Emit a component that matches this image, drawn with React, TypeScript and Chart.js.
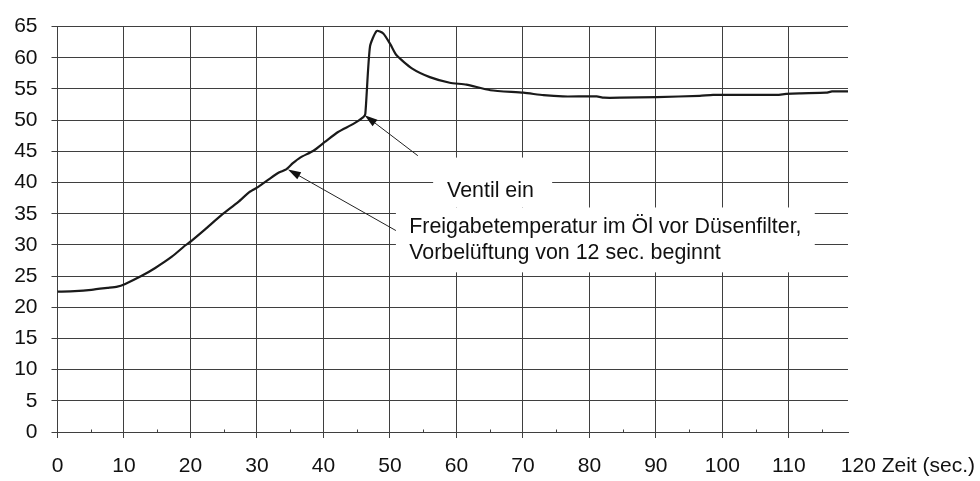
import React, { useEffect, useRef } from 'react';
import { Chart, registerables } from 'chart.js';

Chart.register(...registerables);

// ---- data ----
const timeSec = [
  0, 2.6, 5.1, 7.5, 9.0, 10.1, 12.6, 14.7, 17.2, 19.2,
  20.2, 22.2, 24.7, 27.2, 28.9, 30.2, 31.9, 33.3, 34.4, 35.4,
  36.5, 38.5, 40.2, 42.2, 44.5, 46.0, 46.3, 47.0, 48.0, 49.0,
  50.1, 51.0, 53.3, 56.0, 59.0, 61.5, 65.1, 70.1, 73.1, 76.0,
  81.1, 82.2, 84.7, 90.2, 96.6, 98.6, 108.2, 109.6, 111.6, 115.6,
  116.5, 118.9,
];
const tempC = [
  22.5, 22.6, 22.8, 23.1, 23.3, 23.7, 25.0, 26.3, 28.1, 29.9,
  30.7, 32.5, 34.8, 36.9, 38.5, 39.3, 40.6, 41.6, 42.1, 43.1,
  44.0, 45.1, 46.5, 48.1, 49.4, 50.5, 51.0, 61.8, 64.3, 63.9,
  62.1, 60.4, 58.3, 56.9, 56.0, 55.7, 54.8, 54.4, 54.0, 53.8,
  53.8, 53.6, 53.6, 53.7, 53.9, 54.05, 54.05, 54.2, 54.3, 54.4,
  54.6, 54.6,
];
const xTickValues = [0, 10, 20, 30, 40, 50, 60, 70, 80, 90, 100, 110];
const xMinorTickValues = [5, 15, 25, 35, 45, 55, 65, 75, 85, 95, 105, 115];
const xLastTick = '120';
const xLastTickValue = 120;
const xAxisTitle = 'Zeit (sec.)';
const yTickStep = 5;

const annotValve = 'Ventil ein';
const annotRelease = [
  'Freigabetemperatur im Öl vor Düsenfilter,',
  'Vorbelüftung von 12 sec. beginnt',
];

// annotation geometry in data units
const valveBox = { x0: 56.5, x1: 74.4, y0: 36.0, y1: 44.0 };
const releaseBox = { x0: 50.9, x1: 113.9, y0: 25.6, y1: 36.0 };
const valveText = { x: 58.6, y: 38.65 };
const releaseText = { x: 52.9, y: [32.9, 28.7] };
const valveArrow = { from: [54.2, 44.3], to: [46.2, 50.8] };
const releaseArrow = { from: [50.9, 32.3], to: [34.66, 42.1] };

const FONT = '"Liberation Sans", Arial, Helvetica, sans-serif';
const FONT_SIZE = 21;
const ANNOT_FONT_SIZE = 21.4;
const GRID = '#3f3f3f';
const TEXT = '#111';

function drawArrow(ctx: CanvasRenderingContext2D, x0: number, y0: number, x1: number, y1: number) {
  const ang = Math.atan2(y1 - y0, x1 - x0);
  const len = 13;
  const hw = 4;
  ctx.beginPath();
  ctx.moveTo(x0, y0);
  ctx.lineTo(x1 - Math.cos(ang) * (len - 2), y1 - Math.sin(ang) * (len - 2));
  ctx.stroke();
  ctx.beginPath();
  ctx.moveTo(x1, y1);
  ctx.lineTo(x1 - Math.cos(ang) * len - Math.sin(ang) * hw, y1 - Math.sin(ang) * len + Math.cos(ang) * hw);
  ctx.lineTo(x1 - Math.cos(ang) * len + Math.sin(ang) * hw, y1 - Math.sin(ang) * len - Math.cos(ang) * hw);
  ctx.closePath();
  ctx.fill();
}

const overlayPlugin = {
  id: 'overlay',
  afterDraw(chart: any) {
    const { ctx } = chart;
    const xs = chart.scales.x;
    const ys = chart.scales.y;
    const X = (v: number) => xs.getPixelForValue(v);
    const Y = (v: number) => ys.getPixelForValue(v);
    ctx.save();

    // minor ticks on x axis (inward)
    ctx.strokeStyle = GRID;
    ctx.lineWidth = 1;
    const yAxis = Math.round(Y(0)) + 0.5;
    for (const v of xMinorTickValues) {
      const px = Math.round(X(v)) + 0.5;
      ctx.beginPath();
      ctx.moveTo(px, yAxis);
      ctx.lineTo(px, yAxis - 3);
      ctx.stroke();
    }

    // last x label with axis title
    ctx.font = `${FONT_SIZE}px ${FONT}`;
    ctx.fillStyle = TEXT;
    ctx.textBaseline = 'middle';
    ctx.textAlign = 'left';
    const w = ctx.measureText(xLastTick).width;
    ctx.fillText(`${xLastTick} ${xAxisTitle}`, X(xLastTickValue) - w / 2 + 3, xs.top + 6 + 16 + FONT_SIZE * 0.6);

    // white boxes
    ctx.fillStyle = '#ffffff';
    for (const b of [valveBox, releaseBox]) {
      const l = X(b.x0), r = X(b.x1), t = Y(b.y1), btm = Y(b.y0);
      ctx.fillRect(l, t, r - l, btm - t);
    }

    // texts
    ctx.font = `${ANNOT_FONT_SIZE}px ${FONT}`;
    ctx.fillStyle = TEXT;
    ctx.fillText(annotValve, X(valveText.x), Y(valveText.y));
    annotRelease.forEach((line, i) => ctx.fillText(line, X(releaseText.x), Y(releaseText.y[i])));

    // arrows
    ctx.strokeStyle = '#222';
    ctx.fillStyle = '#111';
    ctx.lineWidth = 1;
    for (const a of [valveArrow, releaseArrow]) {
      drawArrow(ctx, X(a.from[0]), Y(a.from[1]), X(a.to[0]), Y(a.to[1]));
    }
    ctx.restore();
  },
};

export default function App() {
  const ref = useRef<HTMLCanvasElement>(null);
  useEffect(() => {
    if (!ref.current) return;
    const chart = new Chart(ref.current, {
      type: 'line',
      data: {
        datasets: [
          {
            data: timeSec.map((t, i) => ({ x: t, y: tempC[i] })),
            borderColor: '#1a1a1a',
            borderWidth: 2.2,
            pointRadius: 0,
            tension: 0.2,
            fill: false,
          },
        ],
      },
      options: {
        animation: false,
        responsive: false,
        devicePixelRatio: 1,
        layout: { padding: { top: 15, right: 132, bottom: 0, left: 0 } },
        plugins: { legend: { display: false }, tooltip: { enabled: false } },
        scales: {
          x: {
            type: 'linear',
            min: 0,
            max: 118.9,
            afterBuildTicks: (s: any) => {
              s.ticks = xTickValues.map((v) => ({ value: v }));
            },
            afterFit: (s: any) => {
              s.height = 49;
            },
            grid: { color: GRID, lineWidth: 1, tickLength: 6 },
            border: { display: true, color: GRID, width: 1 },
            ticks: {
              autoSkip: false,
              maxRotation: 0,
              padding: 16,
              color: TEXT,
              font: { family: FONT, size: FONT_SIZE },
              callback: (v: any) => String(v),
            },
          },
          y: {
            type: 'linear',
            min: 0,
            max: 65,
            afterFit: (s: any) => {
              s.width = 57.5;
            },
            grid: { color: GRID, lineWidth: 1, tickLength: 6 },
            border: { display: true, color: GRID, width: 1 },
            ticks: {
              stepSize: yTickStep,
              padding: 14,
              color: TEXT,
              font: { family: FONT, size: FONT_SIZE },
            },
          },
        },
      },
      plugins: [overlayPlugin],
    });
    return () => chart.destroy();
  }, []);
  return (
    <div style={{ position: 'absolute', left: 0, top: 0, width: 980, height: 481, background: '#fff' }}>
      <canvas ref={ref} width={980} height={481} />
    </div>
  );
}
